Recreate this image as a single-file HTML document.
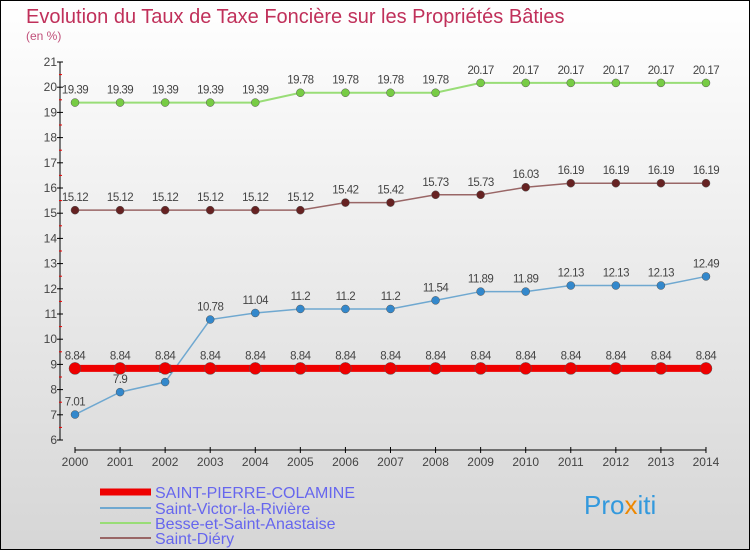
<!DOCTYPE html>
<html><head><meta charset="utf-8"><style>
body{margin:0}
#c{width:750px;height:550px;position:relative;background:linear-gradient(#ffffff,#d6d6d6);box-sizing:border-box;border:1px solid #000;overflow:hidden;font-family:"Liberation Sans",sans-serif}
</style></head><body>
<div id="c">
<svg id="s" width="750" height="550" style="position:absolute;left:-1px;top:-1px;font-family:'Liberation Sans',sans-serif">
<text x="26" y="23" font-size="20" fill="#c0305a">Evolution du Taux de Taxe Foncière sur les Propriétés Bâties</text>
<text x="26" y="40" font-size="12" fill="#c0507a">(en %)</text>
<g id="ax"></g><g id="ser"></g>
<g>
<line x1="100" y1="492" x2="151" y2="492" stroke="#e00" stroke-width="7"/>
<text x="155" y="498" font-size="16" fill="#6666ee">SAINT-PIERRE-COLAMINE</text>
<line x1="100" y1="508" x2="151" y2="508" stroke="#6fa8d0" stroke-width="2"/>
<text x="155" y="514" font-size="16" fill="#6666ee">Saint-Victor-la-Rivière</text>
<line x1="100" y1="523" x2="151" y2="523" stroke="#99dd77" stroke-width="2"/>
<text x="155" y="529" font-size="16" fill="#6666ee">Besse-et-Saint-Anastaise</text>
<line x1="100" y1="538" x2="151" y2="538" stroke="#996666" stroke-width="2"/>
<text x="155" y="544" font-size="16" fill="#6666ee">Saint-Diéry</text>
</g>
<text x="584" y="514" font-size="26" fill="#3399dd">Pro<tspan fill="#ee8800">x</tspan>iti</text>
</svg></div>
<script>
const years=[2000,2001,2002,2003,2004,2005,2006,2007,2008,2009,2010,2011,2012,2013,2014];
const yTicks=[6,7,8,9,10,11,12,13,14,15,16,17,18,19,20,21];
const sPierre=[8.84,8.84,8.84,8.84,8.84,8.84,8.84,8.84,8.84,8.84,8.84,8.84,8.84,8.84,8.84];
const sVictor=[7.01,7.9,8.3,10.78,11.04,11.2,11.2,11.2,11.54,11.89,11.89,12.13,12.13,12.13,12.49];
const besse=[19.39,19.39,19.39,19.39,19.39,19.78,19.78,19.78,19.78,20.17,20.17,20.17,20.17,20.17,20.17];
const diery=[15.12,15.12,15.12,15.12,15.12,15.12,15.42,15.42,15.73,15.73,16.03,16.19,16.19,16.19,16.19];
const NS="http://www.w3.org/2000/svg";
const X=i=>75+i*45.07, Y=v=>440-(v-6)*25.2;
function mk(p,t,a){const e=document.createElementNS(NS,t);for(const k in a)e.setAttribute(k,a[k]);p.appendChild(e);return e;}
const ax=document.getElementById('ax'),ser=document.getElementById('ser');
let e=mk(ax,'line',{x1:60,y1:Y(21),x2:60,y2:Y(6),stroke:'#000'});


e=mk(ax,'line',{x1:75,y1:450,x2:X(14),y2:450,stroke:'#000'});


yTicks.forEach(v=>{mk(ax,'line',{x1:57,x2:63,y1:Y(v),y2:Y(v),stroke:'#000'});
 if(v<21)mk(ax,'line',{x1:59,x2:62,y1:Y(v+0.5),y2:Y(v+0.5),stroke:'#e00'});
 const t=mk(ax,'text',{x:57,y:Y(v)+4,'font-size':12,fill:'#444','text-anchor':'end'});t.textContent=v;
 
 });
years.forEach((y,i)=>{mk(ax,'line',{x1:X(i),x2:X(i),y1:447,y2:453,stroke:'#000'});
 const t=mk(ax,'text',{x:X(i),y:466,'font-size':12,fill:'#444','text-anchor':'middle'});t.textContent=y;
 
 });
function series(d,col,pt,w,r,name){
 const p=mk(ser,'polyline',{points:d.map((v,i)=>X(i)+','+Y(v)).join(' '),fill:'none',stroke:col,'stroke-width':w});
 
 
 d.forEach((v,i)=>{const c=mk(ser,'circle',{cx:X(i),cy:Y(v),r:r,fill:pt,stroke:'#555','stroke-width':0.5});
  
  
  const t=mk(ser,'text',{x:X(i),y:Y(v)-9,'font-size':11.5,fill:'#444','text-anchor':'middle','letter-spacing':'-0.5'});t.textContent=v;
  
  });
}
series(besse,'#99dd77','#77cc44',2,4,'besse');
series(diery,'#996666','#662222',1.5,4,'diery');
series(sVictor,'#6fa8d0','#3388cc',1.5,4,'saint-victor');
series(sPierre,'#ee0000','#ee0000',7,6,'saint-pierre');
</script>
</body></html>
